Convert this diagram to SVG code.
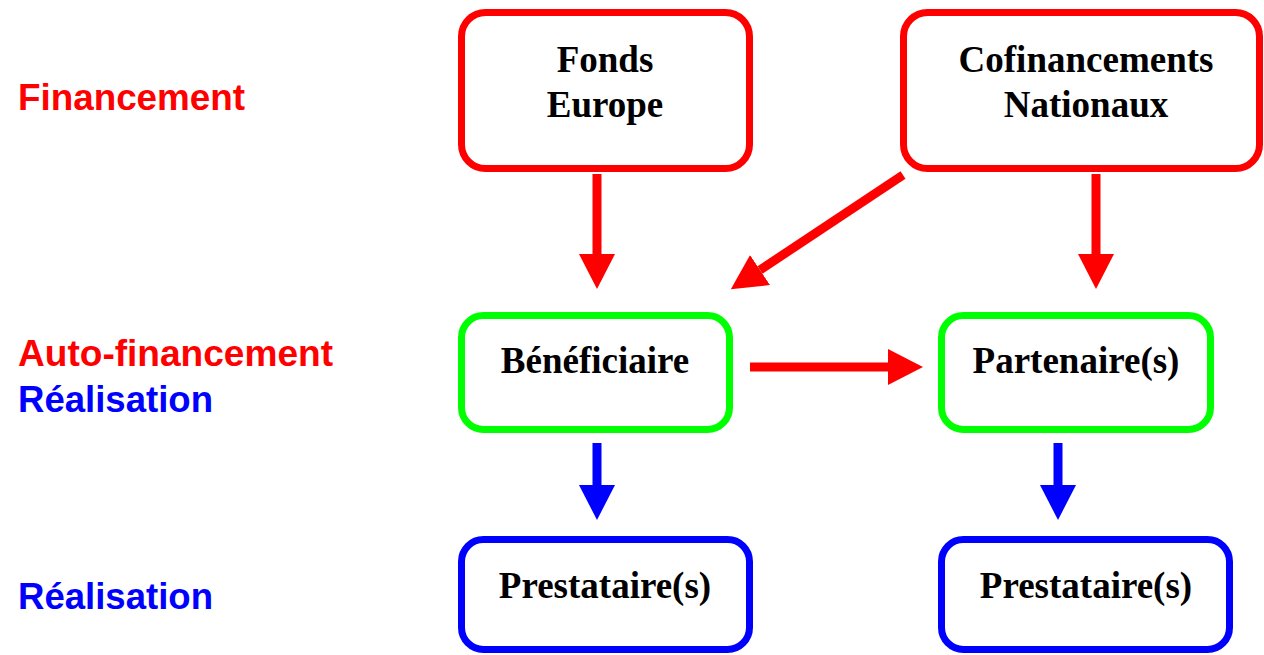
<svg xmlns="http://www.w3.org/2000/svg" width="1264" height="655" viewBox="0 0 1264 655">
<style>
.box{fill:#fff;stroke-width:7}
.red{stroke:#ff0000}
.green{stroke:#00ff00}
.blue{stroke:#0000ff}
.t{font-family:"Liberation Serif","Times New Roman",serif;font-weight:bold;font-size:37px;fill:#000;text-anchor:middle}
.lbl{font-family:"Liberation Sans",Arial,sans-serif;font-weight:bold;font-size:37px}
.shaft{stroke-width:9;fill:none}
</style>
<defs>
<marker id="hr" markerUnits="userSpaceOnUse" markerWidth="36" markerHeight="38" viewBox="0 -19 36 38" refX="0" refY="0" orient="auto"><path d="M0,-18 L35,0 L0,18 z" fill="#ff0000"/></marker>
<marker id="hb" markerUnits="userSpaceOnUse" markerWidth="36" markerHeight="38" viewBox="0 -19 36 38" refX="0" refY="0" orient="auto"><path d="M0,-18 L35,0 L0,18 z" fill="#0000ff"/></marker>
</defs>
<rect width="1264" height="655" fill="#fff"/>
<g id="labels">
<text class="lbl" x="18" y="110" fill="#ff0000" textLength="227" lengthAdjust="spacingAndGlyphs">Financement</text>
<text class="lbl" x="18" y="366" fill="#ff0000" textLength="315" lengthAdjust="spacingAndGlyphs">Auto-financement</text>
<text class="lbl" x="18" y="412" fill="#0000ff" textLength="195" lengthAdjust="spacingAndGlyphs">Réalisation</text>
<text class="lbl" x="18" y="609" fill="#0000ff" textLength="195" lengthAdjust="spacingAndGlyphs">Réalisation</text>
</g>
<g id="node-fonds">
<rect class="box red" x="461.5" y="12.5" width="288" height="156" rx="24"/>
<text class="t" x="605" y="72">Fonds</text>
<text class="t" x="605" y="117">Europe</text>
</g>
<g id="node-cofin">
<rect class="box red" x="903.5" y="12.5" width="356" height="156" rx="24"/>
<text class="t" x="1086" y="72">Cofinancements</text>
<text class="t" x="1086" y="117">Nationaux</text>
</g>
<g id="node-benef">
<rect class="box green" x="461.5" y="315.5" width="268" height="114" rx="22"/>
<text class="t" x="595" y="373">Bénéficiaire</text>
</g>
<g id="node-partenaire">
<rect class="box green" x="941.5" y="315.5" width="269" height="114" rx="22"/>
<text class="t" x="1076" y="373">Partenaire(s)</text>
</g>
<g id="node-prest1">
<rect class="box blue" x="461.5" y="539.5" width="288" height="110" rx="22"/>
<text class="t" x="605" y="598">Prestataire(s)</text>
</g>
<g id="node-prest2">
<rect class="box blue" x="941.5" y="539.5" width="288" height="110" rx="22"/>
<text class="t" x="1086" y="598">Prestataire(s)</text>
</g>
<g id="connectors">
<line class="shaft red" x1="597" y1="174" x2="597" y2="254" marker-end="url(#hr)"/>
<line class="shaft red" x1="1096" y1="174" x2="1096" y2="254" marker-end="url(#hr)"/>
<line class="shaft red" x1="903" y1="175" x2="760" y2="270" marker-end="url(#hr)"/>
<line class="shaft red" x1="750" y1="367" x2="888" y2="367" marker-end="url(#hr)"/>
<line class="shaft blue" x1="597" y1="443" x2="597" y2="485" marker-end="url(#hb)"/>
<line class="shaft blue" x1="1058" y1="443" x2="1058" y2="485" marker-end="url(#hb)"/>
</g>
</svg>
